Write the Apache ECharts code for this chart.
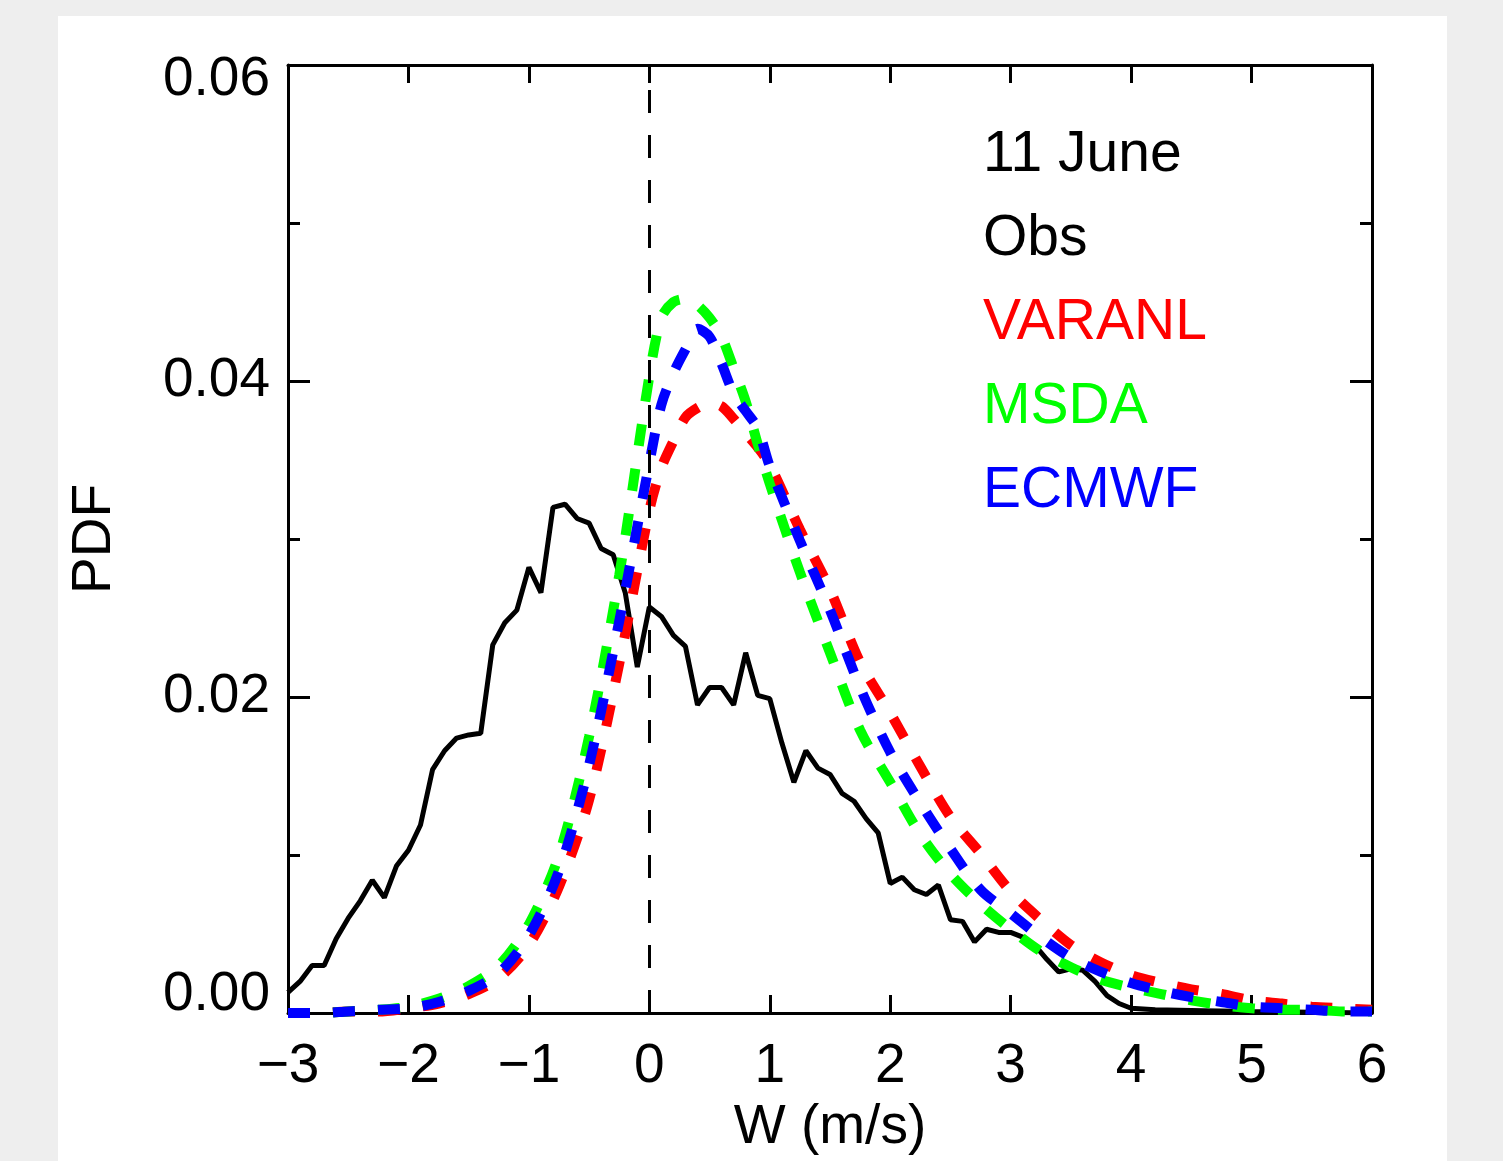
<!DOCTYPE html>
<html>
<head>
<meta charset="utf-8">
<script src="https://cdn.jsdelivr.net/npm/echarts@6/dist/echarts.min.js"></script>
<style>
html,body{margin:0;padding:0;background:#eeeeee;width:1503px;height:1161px;overflow:hidden;}
#panel{position:absolute;left:58px;top:16px;width:1389px;height:1145px;background:#ffffff;}
#chart{position:absolute;left:0;top:0;width:1503px;height:1161px;}
</style>
</head>
<body>
<div id="panel"></div>
<div id="chart"></div>
<script>
// ---- data ----
const xTicks = [-3, -2, -1, 0, 1, 2, 3, 4, 5, 6];
const yTicks = [0.00, 0.02, 0.04, 0.06];
const legendLabels = ['11 June', 'Obs', 'VARANL', 'MSDA', 'ECMWF'];

const xObs = [-3.0,-2.9,-2.8,-2.7,-2.6,-2.5,-2.4,-2.3,-2.2,-2.1,-2.0,-1.9,-1.8,-1.7,-1.6,-1.5,-1.4,-1.3,-1.2,-1.1,
  -1.0,-0.9,-0.8,-0.7,-0.6,-0.5,-0.4,-0.3,-0.2,-0.1,0.0,0.1,0.2,0.3,0.4,0.5,0.6,0.7,0.8,0.9,
  1.0,1.1,1.2,1.3,1.4,1.5,1.6,1.7,1.8,1.9,2.0,2.1,2.2,2.3,2.4,2.5,2.6,2.7,2.8,2.9,
  3.0,3.1,3.2,3.3,3.4,3.5,3.6,3.7,3.8,3.9,4.0,4.2,4.6,5.0,5.5,6.0];
const obs = [0.0013,0.0020,0.0030,0.0030,0.0047,0.0060,0.0071,0.0084,0.0073,0.0093,
  0.0103,0.0119,0.0154,0.0166,0.0174,0.0176,0.0177,0.0233,0.0247,0.0255,
  0.0282,0.0266,0.0320,0.0322,0.0313,0.0310,0.0294,0.0290,0.0266,0.0219,
  0.0257,0.0251,0.0239,0.0232,0.0195,0.0206,0.0206,0.0195,0.0228,0.0201,
  0.0199,0.0171,0.0146,0.0166,0.0155,0.0151,0.0139,0.0134,0.0123,0.0114,
  0.0082,0.0086,0.0078,0.0075,0.0081,0.0059,0.0058,0.0045,0.0053,0.0051,
  0.0051,0.0048,0.0043,0.0034,0.0026,0.0028,0.0027,0.0020,0.0011,0.0006,
  0.0003,0.0002,0.00015,0.0001,0.00005,0.0];

const xModel = [-3.0,-2.75,-2.5,-2.25,-2.0,-1.75,-1.5,-1.25,-1.0,-0.75,-0.5,-0.25,
  0.0,0.1,0.2,0.3,0.4,0.5,0.6,0.7,0.8,0.9,1.0,
  1.25,1.5,1.75,2.0,2.25,2.5,2.75,3.0,3.25,3.5,3.75,4.0,4.25,4.5,4.75,5.0,5.25,5.5,5.75,6.0];
const varanl = [0.0000,0.0000,0.0001,0.0001,0.0003,0.0006,0.0012,0.0022,0.0043,0.0080,0.0135,0.0221,
  0.0318,0.0345,0.0362,0.0377,0.0383,0.0386,0.0384,0.0376,0.0367,0.0358,0.0347,
  0.0306,0.0268,0.0222,0.0190,0.0156,0.0124,0.0101,0.0077,0.0059,0.0043,0.0032,0.0024,0.0019,0.0015,0.0012,0.0008,0.0006,0.0004,0.0003,0.0002];
const msda = [0.0000,0.0000,0.0001,0.0002,0.0004,0.0009,0.0017,0.0030,0.0056,0.0100,0.0175,0.0277,
  0.0403,0.0440,0.0450,0.0452,0.0448,0.0440,0.0428,0.0408,0.0387,0.0360,0.0335,
  0.0279,0.0228,0.0179,0.0146,0.0113,0.0088,0.0069,0.0053,0.0039,0.0029,0.0021,0.0016,0.0012,0.0008,0.0005,0.0003,0.0002,0.0002,0.0001,0.0001];
const ecmwf = [0.0000,0.0000,0.0001,0.0002,0.0003,0.0007,0.0014,0.0025,0.0049,0.0090,0.0157,0.0248,
  0.0348,0.0385,0.0405,0.0420,0.0433,0.0428,0.0411,0.0392,0.0381,0.0370,0.0346,
  0.0299,0.0255,0.0206,0.0165,0.0133,0.0104,0.0078,0.0063,0.0048,0.0035,0.0026,0.0019,0.0014,0.0010,0.0007,0.0004,0.0003,0.0002,0.0001,0.0001];

// ---- chart ----
const FONT = 'Liberation Sans';
const pair = (xs, ys) => xs.map((x, i) => [x, ys[i]]);
const chart = echarts.init(document.getElementById('chart'), null, {renderer: 'canvas'});

const axisLineStyle = {color: '#000', width: 3};
const xMin = xTicks[0], xMax = xTicks[xTicks.length - 1];
const yMin = yTicks[0], yMax = yTicks[yTicks.length - 1];

function xFmt(v) { return v < 0 ? '\u2212' + Math.abs(v) : String(v); }
function yFmt(v) {
  const s = v.toFixed(2);
  if (Math.abs(v - yMax) < 1e-9) return '{top|' + s + '}';
  if (Math.abs(v - yMin) < 1e-9) return '{bot|' + s + '}';
  return s;
}

const xBase = {type: 'value', min: xMin, max: xMax, interval: 1,
  splitLine: {show: false}, axisLine: {show: true, lineStyle: axisLineStyle, onZero: false}};
const yBase = {type: 'value', min: yMin, max: yMax, interval: 0.02,
  splitLine: {show: false}, axisLine: {show: true, lineStyle: axisLineStyle, onZero: false},
  minorTick: {show: true, splitNumber: 2, length: 12, lineStyle: {color: '#000', width: 3}},
  minorSplitLine: {show: false}};

const modelSeries = (name, data, color) => ({
  name: name, type: 'line', data: pair(xModel, data), showSymbol: false, symbol: 'none',
  smooth: 0.3, lineStyle: {color: color, width: 10, type: [22, 23], cap: 'butt'}, z: 3,
  xAxisIndex: 0, yAxisIndex: 0
});

chart.setOption({
  animation: false,
  textStyle: {fontFamily: FONT},
  grid: {left: 288, top: 65, right: 131, bottom: 148, containLabel: false},
  xAxis: [
    Object.assign({}, xBase, {position: 'bottom',
      name: 'W (m/s)', nameLocation: 'middle', nameGap: 87,
      nameTextStyle: {fontSize: 55, color: '#000', fontFamily: FONT},
      axisTick: {show: true, inside: true, length: 18, lineStyle: {color: '#000', width: 3}},
      axisLabel: {show: true, margin: 26, fontSize: 55, color: '#000', fontFamily: FONT, formatter: xFmt}}),
    Object.assign({}, xBase, {position: 'top',
      axisTick: {show: true, inside: true, length: 18, lineStyle: {color: '#000', width: 3}},
      axisLabel: {show: false}})
  ],
  yAxis: [
    Object.assign({}, yBase, {position: 'left',
      name: 'PDF', nameLocation: 'middle', nameGap: 166, nameRotate: 90,
      nameTextStyle: {fontSize: 55, color: '#000', fontFamily: FONT},
      axisTick: {show: true, inside: true, length: 22, lineStyle: {color: '#000', width: 3}},
      minorTick: {show: true, splitNumber: 2, length: 12, lineStyle: {color: '#000', width: 3}},
      axisLabel: {show: true, margin: 18, fontSize: 55, color: '#000', fontFamily: FONT, formatter: yFmt,
        rich: {
          top: {fontSize: 55, color: '#000', fontFamily: FONT, padding: [30, 0, 0, 0]},
          bot: {fontSize: 55, color: '#000', fontFamily: FONT, padding: [0, 0, 36, 0]}
        }}}),
    Object.assign({}, yBase, {position: 'right',
      axisTick: {show: true, inside: true, length: 22, lineStyle: {color: '#000', width: 3}},
      minorTick: {show: true, splitNumber: 2, length: 12, lineStyle: {color: '#000', width: 3}},
      axisLabel: {show: false}})
  ],
  series: [
    {name: 'Obs', type: 'line', data: pair(xObs, obs), showSymbol: false, symbol: 'none',
     lineStyle: {color: '#000', width: 5}, z: 2, xAxisIndex: 0, yAxisIndex: 0,
     markLine: {silent: true, symbol: 'none', label: {show: false},
       lineStyle: {color: '#000', width: 3, type: [23, 22]},
       data: [{xAxis: 0}]}},
    modelSeries('VARANL', varanl, '#ff0000'),
    modelSeries('MSDA', msda, '#00ff00'),
    modelSeries('ECMWF', ecmwf, '#0000ff')
  ],
  graphic: legendLabels.map((t, i) => ({
    type: 'text', left: 983, top: 127 + i * 84, z: 10,
    style: {text: t, fontSize: 57, fontFamily: FONT,
      fill: ['#000', '#000', '#ff0000', '#00ff00', '#0000ff'][i]}
  }))
});
</script>
</body>
</html>
